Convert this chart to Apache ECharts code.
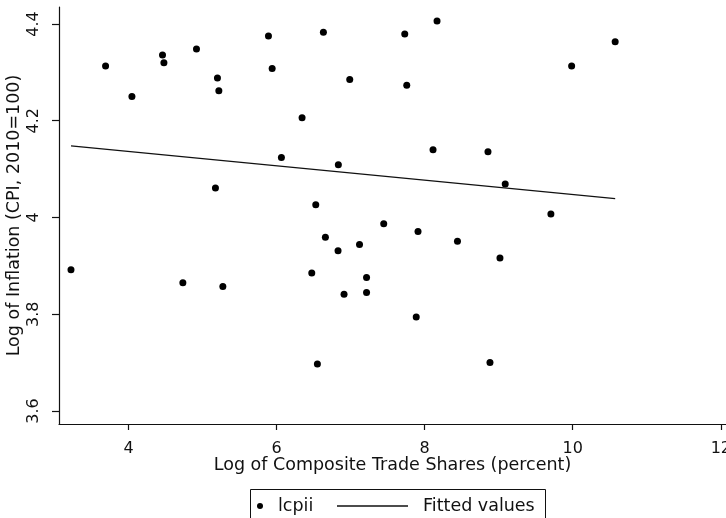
<!DOCTYPE html>
<html>
<head>
<meta charset="utf-8">
<script src="https://cdn.jsdelivr.net/npm/echarts@6/dist/echarts.min.js"></script>
<style>html,body{margin:0;padding:0;background:#fff;}#c{width:726px;height:518px;}</style>
</head>
<body>
<div id="c"></div>
<script>
var tradeShares = [3.223,3.690,4.046,4.459,4.478,4.918,5.201,5.220,5.174,4.734,5.274,5.890,6.632,7.731,8.167,5.940,6.988,7.758,6.344,6.065,8.113,8.855,6.834,6.529,7.447,6.659,7.910,8.443,6.830,7.120,9.017,6.475,7.215,6.911,7.215,7.886,6.551,8.882,10.573,9.985,9.088,9.705];
var lcpii = [3.892,4.313,4.250,4.336,4.320,4.348,4.288,4.262,4.061,3.865,3.857,4.375,4.383,4.379,4.406,4.308,4.285,4.273,4.206,4.124,4.140,4.136,4.109,4.026,3.987,3.959,3.971,3.951,3.931,3.944,3.916,3.885,3.876,3.841,3.845,3.794,3.697,3.700,4.363,4.313,4.069,4.007];
var fittedX = [3.223, 10.573];
var fittedY = [4.148, 4.039];
var xTicks = [4, 6, 8, 10, 12];
var yTicks = [3.6, 3.8, 4, 4.2, 4.4];

var FONT = 'DejaVu Sans';
var scatterData = tradeShares.map(function (x, i) { return [x, lcpii[i]]; });
var fitData = fittedX.map(function (x, i) { return [x, fittedY[i]]; });

var chart = echarts.init(document.getElementById('c'), null, {renderer: 'canvas'});
chart.setOption({
  animation: false,
  backgroundColor: '#fff',
  textStyle: {fontFamily: FONT, color: '#111'},
  grid: {left: 59, right: 0, top: 7, bottom: 94, containLabel: false, outerBoundsMode: 'none'},
  xAxis: {
    type: 'value', min: 3.061, max: 12.07,
    splitLine: {show: false},
    axisLine: {show: true, onZero: false, lineStyle: {color: '#111', width: 1.2}},
    axisTick: {show: true, length: 6, lineStyle: {color: '#111', width: 1.2}, customValues: xTicks},
    axisLabel: {fontFamily: FONT, fontSize: 16, color: '#111', margin: 17, customValues: xTicks},
    name: 'Log of Composite Trade Shares (percent)',
    nameLocation: 'middle', nameGap: 32, nameMoveOverlap: false,
    nameTextStyle: {fontFamily: FONT, fontSize: 17.5, color: '#111'}
  },
  yAxis: {
    type: 'value', min: 3.573, max: 4.435,
    splitLine: {show: false},
    axisLine: {show: true, onZero: false, lineStyle: {color: '#111', width: 1.2}},
    axisTick: {show: true, length: 7, lineStyle: {color: '#111', width: 1.2}, customValues: yTicks},
    axisLabel: {fontFamily: FONT, fontSize: 16, color: '#111', margin: 17, rotate: 90, customValues: yTicks},
    name: 'Log of Inflation (CPI, 2010=100)',
    nameLocation: 'middle', nameGap: 36, nameMoveOverlap: false,
    nameTextStyle: {fontFamily: FONT, fontSize: 17.5, color: '#111'}
  },
  legend: [
    {
      data: [{name: 'lcpii', icon: 'circle'}],
      left: 257, top: 497, padding: 0,
      itemWidth: 6, itemHeight: 6,
      textStyle: {fontFamily: FONT, fontSize: 17.5, color: '#111', padding: [0, 0, 0, 10]}
    },
    {
      data: [{name: 'Fitted values', icon: 'rect'}],
      left: 337, top: 497, padding: 0,
      itemWidth: 71, itemHeight: 1.3,
      textStyle: {fontFamily: FONT, fontSize: 17.5, color: '#111', padding: [0, 0, 0, 10]}
    }
  ],
  graphic: [
    {type: 'rect', left: 248, top: 487, shape: {x: 0, y: 0, width: 295, height: 40},
     style: {fill: 'none', stroke: '#111', lineWidth: 1}}
  ],
  series: [
    {
      name: 'lcpii', type: 'scatter', data: scatterData,
      symbol: 'circle', symbolSize: 7,
      itemStyle: {color: '#000', opacity: 1}
    },
    {
      name: 'Fitted values', type: 'line', data: fitData,
      showSymbol: false, symbol: 'none',
      lineStyle: {color: '#111', width: 1.3},
      itemStyle: {color: '#111'}
    }
  ]
});
</script>
</body>
</html>
